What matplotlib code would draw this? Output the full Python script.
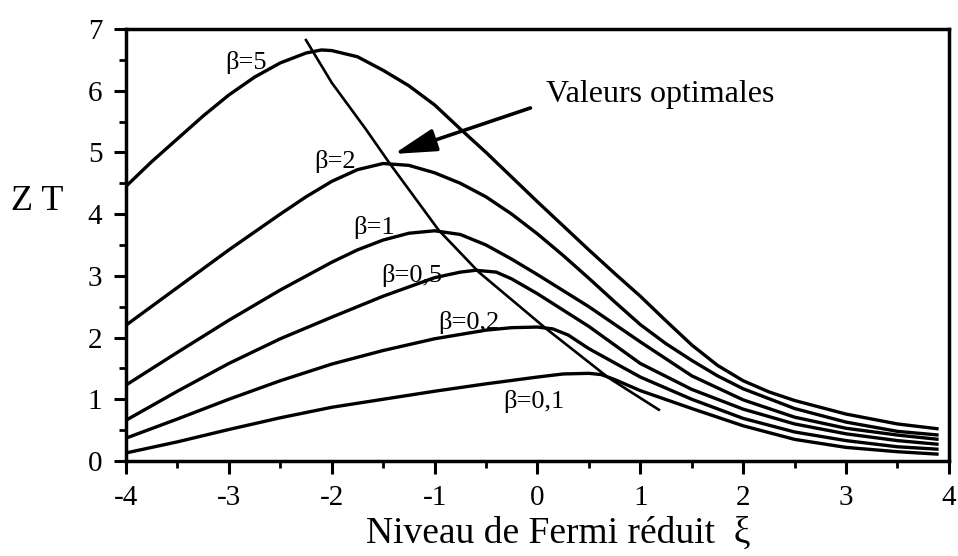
import matplotlib
matplotlib.use('Agg')
import matplotlib.pyplot as plt
from matplotlib.ticker import MultipleLocator

# values
xi_b5 = [-4.0, -3.75, -3.5, -3.25, -3.0, -2.75, -2.5, -2.25, -2.1, -2.0, -1.75, -1.5, -1.25, -1.0, -0.75, -0.5, -0.25,
         0.0, 0.25, 0.5, 0.75, 1.0, 1.25, 1.5, 1.75, 2.0, 2.25, 2.5, 3.0, 3.5, 3.9]
zt_b5 = [4.45, 4.85, 5.22, 5.59, 5.93, 6.22, 6.45, 6.61, 6.66, 6.65, 6.55, 6.33, 6.08, 5.77, 5.38, 5.00, 4.60,
         4.20, 3.81, 3.42, 3.04, 2.67, 2.27, 1.88, 1.55, 1.30, 1.12, 0.98, 0.76, 0.60, 0.52]

xi_b2 = [-4.0, -3.5, -3.0, -2.5, -2.25, -2.0, -1.75, -1.5, -1.25, -1.0, -0.75, -0.5, -0.25, 0.0, 0.25, 0.5, 0.75,
         1.0, 1.25, 1.5, 1.75, 2.0, 2.5, 3.0, 3.5, 3.9]
zt_b2 = [2.20, 2.81, 3.42, 4.00, 4.28, 4.53, 4.72, 4.82, 4.79, 4.67, 4.50, 4.28, 4.00, 3.68, 3.33, 2.96, 2.58,
         2.21, 1.90, 1.63, 1.38, 1.17, 0.85, 0.63, 0.48, 0.42]

xi_b1 = [-4.0, -3.5, -3.0, -2.5, -2.0, -1.75, -1.5, -1.25, -1.0, -0.75, -0.5, -0.25, 0.0, 0.5, 1.0, 1.5, 2.0, 2.5,
         3.0, 3.5, 3.9]
zt_b1 = [1.23, 1.76, 2.28, 2.77, 3.22, 3.42, 3.58, 3.69, 3.73, 3.67, 3.50, 3.27, 3.02, 2.50, 1.93, 1.38, 0.99, 0.71,
         0.53, 0.42, 0.35]

xi_b05 = [-4.0, -3.5, -3.0, -2.5, -2.0, -1.5, -1.0, -0.75, -0.6, -0.4, -0.25, 0.0, 0.5, 1.0, 1.5, 2.0, 2.5, 3.0,
          3.5, 3.9]
zt_b05 = [0.66, 1.13, 1.58, 1.98, 2.33, 2.67, 2.97, 3.06, 3.09, 3.06, 2.95, 2.71, 2.18, 1.58, 1.16, 0.84, 0.60, 0.44,
          0.33, 0.27]

xi_b02 = [-4.0, -3.5, -3.0, -2.5, -2.0, -1.5, -1.0, -0.5, -0.25, 0.0, 0.15, 0.3, 0.5, 1.0, 1.5, 2.0, 2.5, 3.0,
          3.5, 3.9]
zt_b02 = [0.37, 0.68, 1.00, 1.30, 1.57, 1.79, 1.98, 2.12, 2.16, 2.17, 2.14, 2.04, 1.82, 1.36, 1.00, 0.69, 0.47, 0.33,
          0.23, 0.19]

xi_b01 = [-4.0, -3.5, -3.0, -2.5, -2.0, -1.5, -1.0, -0.5, 0.0, 0.25, 0.5, 0.62, 0.75, 1.0, 1.5, 2.0, 2.5, 3.0,
          3.5, 3.9]
zt_b01 = [0.13, 0.31, 0.51, 0.70, 0.87, 1.00, 1.13, 1.25, 1.36, 1.41, 1.42, 1.40, 1.32, 1.14, 0.85, 0.57, 0.35, 0.22,
          0.15, 0.11]

# locus of the maxima ("valeurs optimales")
xi_opt = [-2.25, -2.0, -1.67, -1.44, -0.96, -0.57, 0.08, 0.69, 1.18]
zt_opt = [6.82, 6.13, 5.38, 4.83, 3.74, 3.06, 2.15, 1.35, 0.83]

curve_labels = ['β=5', 'β=2', 'β=1', 'β=0,5', 'β=0,2', 'β=0,1']
label_x = [-2.83, -1.97, -1.59, -1.22, -0.67, -0.03]
label_y = [6.45, 4.86, 3.78, 3.01, 2.24, 0.97]

plt.rcParams['font.family'] = ['Liberation Serif', 'DejaVu Serif']
plt.rcParams['axes.unicode_minus'] = False

fig = plt.figure(figsize=(9.58, 5.56), dpi=100)
ax = fig.add_axes([0.1315, 0.1709, 0.8590, 0.777])

curves = [(xi_b5, zt_b5), (xi_b2, zt_b2), (xi_b1, zt_b1),
          (xi_b05, zt_b05), (xi_b02, zt_b02), (xi_b01, zt_b01)]
for xs, ys in curves:
    ax.plot(xs, ys, color='black', lw=2.4, solid_joinstyle='round', solid_capstyle='butt')
ax.plot(xi_opt, zt_opt, color='black', lw=1.9, solid_joinstyle='round')

for lab, lx, ly in zip(curve_labels, label_x, label_y):
    ax.text(lx, ly, lab, fontsize=19, ha='center', va='center')

ax.annotate('', xy=(-1.395, 4.975), xytext=(-0.068, 5.72),
            arrowprops=dict(arrowstyle='-|>,head_length=1.3,head_width=0.35',
                            mutation_scale=20, lw=2.6, color='black',
                            shrinkA=0, shrinkB=0))
ax.text(0.087, 5.82, 'Valeurs optimales', fontsize=23, ha='left', va='baseline')

ax.set_xlim(-4, 4)
ax.set_ylim(0, 7)
ax.xaxis.set_major_locator(MultipleLocator(1))
ax.xaxis.set_minor_locator(MultipleLocator(0.5))
ax.yaxis.set_major_locator(MultipleLocator(1))
ax.yaxis.set_minor_locator(MultipleLocator(0.5))
ax.tick_params(which='major', direction='out', length=9, width=2.2, labelsize=21, pad=8)
ax.tick_params(which='minor', direction='out', length=5, width=2.0)
for sp in ax.spines.values():
    sp.set_linewidth(2.5)

ax.set_xlabel('Niveau de Fermi réduit  ξ', fontsize=27, va='baseline', ha='center')
ax.xaxis.set_label_coords(0.525, -0.19)
ax.set_ylabel('Z T', fontsize=26, rotation=0, ha='center', va='center')
ax.yaxis.set_label_coords(-0.108, 0.60)

fig.savefig('out.png', dpi=100)
plt.close(fig)
